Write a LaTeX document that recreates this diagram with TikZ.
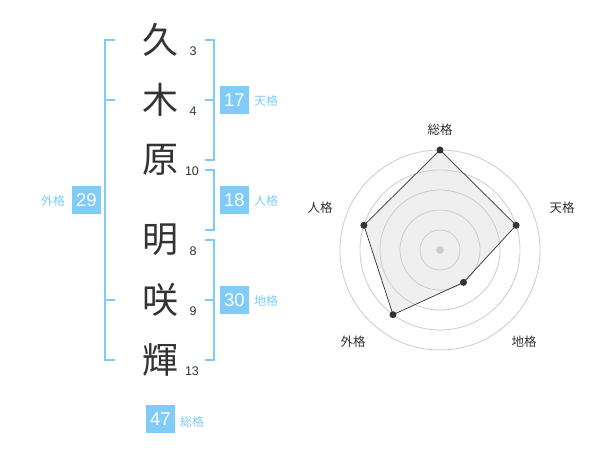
\documentclass[tikz,border=0pt]{standalone}
\usepackage{fontspec}
\setmainfont{Liberation Sans}
\newfontfamily\cjk{Noto Sans CJK JP}
\definecolor{lblue}{HTML}{80CCF8}
\definecolor{dtext}{HTML}{333333}
\definecolor{ring}{HTML}{CCCCCC}
\definecolor{polyfill}{HTML}{EFEFEF}
\tikzset{
  kanji/.style={font=\cjk\fontsize{36}{36}\selectfont, text=dtext, inner sep=0pt},
  strokes/.style={font=\fontsize{12.5}{13}\selectfont, text=dtext, inner sep=0pt},
  numbox/.style={fill=lblue, text=white, minimum size=28.5pt, inner sep=0pt, font=\fontsize{18.5}{19}\selectfont},
  kaku/.style={font=\cjk\fontsize{12}{12}\selectfont, text=lblue, inner sep=0pt},
  bracket/.style={draw=lblue, line width=2pt},
  ringline/.style={draw=ring, line width=0.8pt},
  axislabel/.style={font=\cjk\fontsize{12.5}{13}\selectfont, text=dtext, inner sep=0pt},
  dot/.style={circle, fill=dtext, minimum size=7pt, inner sep=0pt},
}
\begin{document}
\begin{tikzpicture}[x=1pt,y=-1pt]
\useasboundingbox (0,0) rectangle (600,470);
\fill[white] (0,0) rectangle (600,470);
% characters
\node[kanji] (k1) at (160,40) {久};
\node[kanji] (k2) at (160,100) {木};
\node[kanji] (k3) at (160,160) {原};
\node[kanji] (k4) at (160,240) {明};
\node[kanji] (k5) at (160,300) {咲};
\node[kanji] (k6) at (160,360) {輝};
% stroke counts
\node[strokes] (s1) at (193,51.5) {3};
\node[strokes] (s2) at (193,111.5) {4};
\node[strokes] (s3) at (192,171.5) {10};
\node[strokes] (s4) at (193,251.5) {8};
\node[strokes] (s5) at (193,311.5) {9};
\node[strokes] (s6) at (192,371.5) {13};
% brackets
\draw[bracket] (115,40) -- (105,40) -- (105,360) -- (115,360);
\draw[bracket] (105,100) -- (115,100);
\draw[bracket] (105,300) -- (115,300);
\draw[bracket] (205,40) -- (214,40) -- (214,160) -- (205,160);
\draw[bracket] (214,100) -- (205,100);
\draw[bracket] (205,170) -- (214,170) -- (214,230) -- (205,230);
\draw[bracket] (205,240) -- (214,240) -- (214,360) -- (205,360);
\draw[bracket] (214,300) -- (205,300);
% boxes and labels
\node[numbox] (b29) at (86.5,200) {29};
\node[kaku] (l29) at (53,201) {外格};
\node[numbox] (b17) at (234.5,100) {17};
\node[kaku] (l17) at (266,101) {天格};
\node[numbox] (b18) at (234.5,200) {18};
\node[kaku] (l18) at (266,201) {人格};
\node[numbox] (b30) at (234.5,300) {30};
\node[kaku] (l30) at (266,301) {地格};
\node[numbox] (b47) at (160.5,419) {47};
\node[kaku] (l47) at (192,422) {総格};
% radar
\coordinate (c) at (440,250);
\coordinate (p1) at (440,150);
\coordinate (p2) at (516.1,225.3);
\coordinate (p3) at (463.5,282.4);
\coordinate (p4) at (393.0,314.7);
\coordinate (p5) at (363.9,225.3);
\fill[polyfill] (p1) -- (p2) -- (p3) -- (p4) -- (p5) -- cycle;
\foreach \r in {20,40,60,80,100} \draw[ringline] (c) circle (\r);
\draw[dtext, line width=0.7pt] (p1) -- (p2) -- (p3) -- (p4) -- (p5) -- cycle;
\fill[ring] (c) circle (4);
\node[dot] (d1) at (p1) {};
\node[dot] (d2) at (p2) {};
\node[dot] (d3) at (p3) {};
\node[dot] (d4) at (p4) {};
\node[dot] (d5) at (p5) {};
\node[axislabel] (a1) at (440,130) {総格};
\node[axislabel] (a2) at (562,208) {天格};
\node[axislabel] (a3) at (524,342) {地格};
\node[axislabel] (a4) at (353,342) {外格};
\node[axislabel] (a5) at (320,208) {人格};
\end{tikzpicture}
\end{document}
